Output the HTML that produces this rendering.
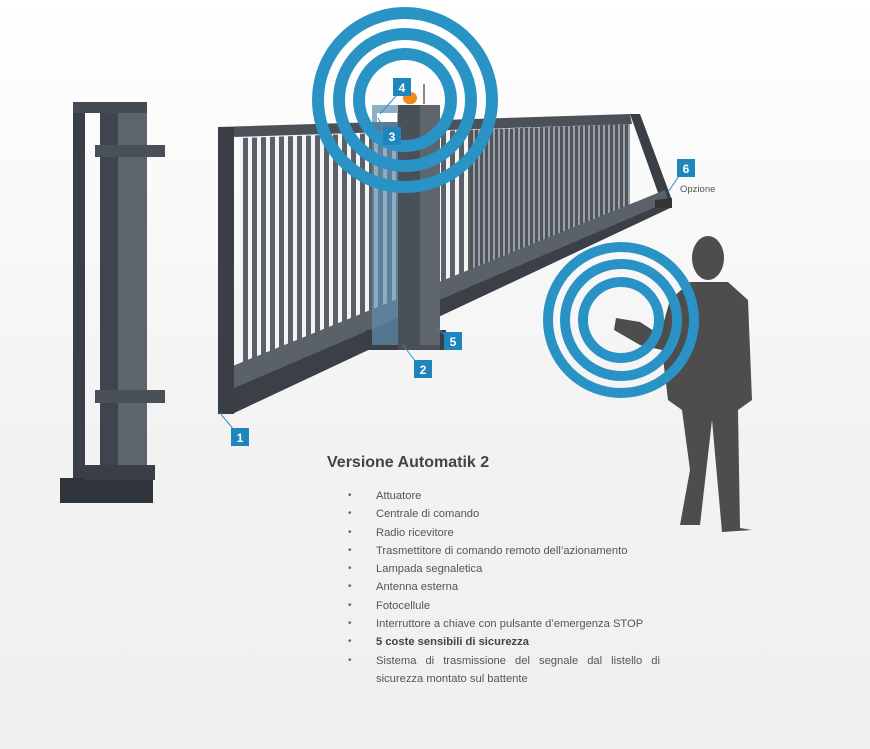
<!DOCTYPE html>
<html><head><meta charset="utf-8"><style>
html,body{margin:0;padding:0;}
body{width:870px;height:749px;overflow:hidden;background:linear-gradient(#ffffff,#f2f2f2 60%,#f0f0f0);font-family:"Liberation Sans",sans-serif;position:relative;}
svg{position:absolute;left:0;top:0;}
h1{position:absolute;left:327px;top:454px;margin:0;font-size:16px;color:#444;font-weight:bold;}
ul{position:absolute;left:348px;top:487px;margin:0;padding:0;list-style:none;font-size:11.2px;color:#555;width:312px;}
ul li{position:relative;padding-left:28px;line-height:18.3px;white-space:nowrap;}
ul li.j{white-space:normal;text-align:justify;}
ul li:before{content:"•";position:absolute;left:0;color:#666;font-size:10px;}
</style></head><body>
<svg width="870" height="749" viewBox="0 0 870 749">
<defs>
<pattern id="p1" width="9" height="10" patternUnits="userSpaceOnUse"><rect width="9" height="10" fill="#f4f4f4"/><rect x="0" width="5" height="10" fill="#5a6068"/></pattern>
<pattern id="p2" width="5" height="10" patternUnits="userSpaceOnUse"><rect width="5" height="10" fill="#9aa0a6"/><rect x="0" width="3" height="10" fill="#4e545b"/></pattern>
</defs>
<rect x="73" y="102" width="12" height="390" fill="#3a3f46"/>
<rect x="100" y="102" width="18" height="390" fill="#3f454c"/>
<rect x="118" y="102" width="29" height="390" fill="#5d646c"/>
<rect x="73" y="102" width="74" height="11" fill="#454b52"/>
<rect x="95" y="145" width="70" height="12" fill="#4a5058"/>
<rect x="95" y="390" width="70" height="13" fill="#4a5058"/>
<rect x="60" y="478" width="93" height="25" fill="#2f343a"/>
<rect x="85" y="465" width="70" height="15" fill="#3a3f46"/>
<polygon points="240,138 630,124 630,215 240,380" fill="url(#p1)"/>
<polygon points="470,130 630,124 630,215 470,285" fill="url(#p2)"/>
<polygon points="218,127 630,114 632,124 235,137" fill="#4b5159"/>
<polygon points="630,114 640,114 672,200 662,204" fill="#3a3f46"/>
<polygon points="218,372 665,190 670,208 232,414 218,412" fill="#5a6169"/>
<polygon points="218,395 665,203 670,208 232,414 218,412" fill="#3b4047"/>
<rect x="218" y="127" width="16" height="287" fill="#3a3f46"/>
<polygon points="655,200 672,198 672,208 655,208" fill="#333"/>
<rect x="366" y="330" width="80" height="20" fill="#3a3f46"/>
<rect x="372" y="105" width="30" height="240" fill="#5f8fae" opacity="0.7"/>
<rect x="398" y="105" width="42" height="245" fill="#4a5057"/>
<rect x="420" y="105" width="20" height="240" fill="#5e656d"/>
<rect x="403" y="92" width="14" height="12" rx="6" fill="#f08a1a"/>
<rect x="423" y="84" width="2" height="20" fill="#888"/>
<rect x="377" y="113" width="20" height="9" fill="#fff"/>
<g fill="none" stroke="#2a93c5" stroke-width="12">
<circle cx="405" cy="100" r="87"/><circle cx="405" cy="100" r="66"/><circle cx="405" cy="100" r="46"/>
</g>
<g fill="#4d4d4d">
<ellipse cx="708" cy="258" rx="16" ry="22"/>
<path d="M690,282 L728,282 L748,300 L752,400 L738,410 L740,528 L752,530 L722,532 L712,420 L700,525 L680,525 L690,470 L682,410 L668,400 L662,350 L640,345 L614,330 L616,318 L640,322 L660,335 L670,300 Z"/>
</g>
<g fill="none" stroke="#2a93c5" stroke-width="10">
<circle cx="621" cy="320" r="73"/><circle cx="621" cy="320" r="56"/><circle cx="621" cy="320" r="38"/>
</g>
<g stroke="#2a93c5" stroke-width="1" fill="none">
<line x1="220" y1="413" x2="234" y2="430"/>
<line x1="403" y1="345" x2="416" y2="362"/>
<line x1="437" y1="328" x2="445" y2="335"/>
<line x1="396" y1="96" x2="380" y2="114"/>
<line x1="378" y1="118" x2="385" y2="130"/>
<line x1="679" y1="176" x2="668" y2="192"/>
</g>
<g font-family="Liberation Sans,sans-serif" font-weight="bold" font-size="12" fill="#fff" text-anchor="middle">
<rect x="231" y="428" width="18" height="18" fill="#1f86bd"/><text x="240" y="442">1</text>
<rect x="414" y="360" width="18" height="18" fill="#1f86bd"/><text x="423" y="374">2</text>
<rect x="383" y="127" width="18" height="18" fill="#1f86bd"/><text x="392" y="141">3</text>
<rect x="393" y="78" width="18" height="18" fill="#1f86bd"/><text x="402" y="92">4</text>
<rect x="444" y="332" width="18" height="18" fill="#1f86bd"/><text x="453" y="346">5</text>
<rect x="677" y="159" width="18" height="18" fill="#1f86bd"/><text x="686" y="173">6</text>
</g>
<text x="680" y="192" font-family="Liberation Sans,sans-serif" font-size="9.5" fill="#555">Opzione</text>
</svg>
<h1>Versione Automatik 2</h1>
<ul>
<li>Attuatore</li>
<li>Centrale di comando</li>
<li>Radio ricevitore</li>
<li>Trasmettitore di comando remoto dell’azionamento</li>
<li>Lampada segnaletica</li>
<li>Antenna esterna</li>
<li>Fotocellule</li>
<li>Interruttore a chiave con pulsante d’emergenza STOP</li>
<li><b style="color:#444">5 coste sensibili di sicurezza</b></li>
<li class="j">Sistema di trasmissione del segnale dal listello di sicurezza montato sul battente</li>
</ul>
</body></html>
